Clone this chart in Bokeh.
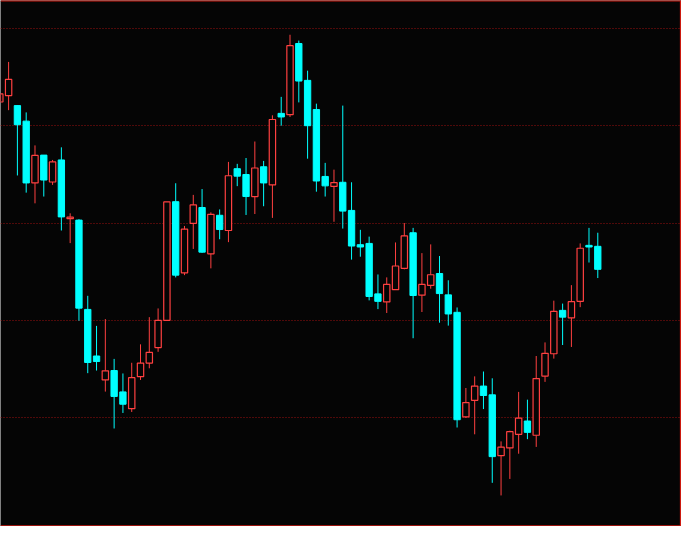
from bokeh.plotting import figure
from bokeh.models import Span, FixedTicker, ColumnDataSource
from bokeh.embed import file_html
from bokeh.resources import INLINE

# OHLC data (arbitrary price units)
opens = [424.7, 431.3, 421, 405, 341.3, 370, 342.3, 365, 304.5, 303,
         211, 163, 138.3, 148, 126, 108.7, 141.7, 155.7, 171.7, 199.7,
         322, 248.7, 299.7, 316, 268.3, 308, 292.3, 356, 350, 327.3,
         358, 339.3, 413, 411.7, 485, 447, 417, 348, 337.7, 342,
         313, 277.7, 279, 227, 218.7, 231.3, 253.3, 290, 225.7, 235.7,
         248, 226, 208, 100.3, 117.3, 132, 123, 60.3, 68.3, 82.3,
         96, 81.3, 142.3, 165.3, 210, 202.3, 219.3, 277, 276]
highs = [433, 466, 421, 414, 380, 370, 365, 378, 310, 304,
         225, 194, 201, 160, 145, 156, 175, 203, 212, 321.7,
         341, 297, 329, 335, 311, 314, 363, 361, 367, 384,
         364, 411, 430, 494, 488, 457, 423, 362, 355, 421,
         342, 293, 286, 247, 244, 280, 300, 295, 269, 278,
         266, 241, 213, 130, 142, 147, 140, 75, 86, 126,
         118, 163, 177, 220, 217, 236, 279, 295, 290]
lows = [424.7, 416.3, 349, 331.3, 320.3, 327.3, 339.3, 292.3, 279.3, 199.3,
        145.3, 148, 126.3, 88.3, 104.3, 105.3, 138.3, 150.3, 167.3, 199.7,
        244, 246.3, 273.3, 269.3, 253.3, 283.3, 280.3, 338, 308.3, 309.3,
        317.3, 305.3, 400.3, 409.3, 424.3, 366.3, 332.3, 327.3, 301.3, 294.3,
        262.3, 265.3, 220.3, 211.3, 207.3, 231.3, 252.3, 181.3, 208.3, 232.3,
        197.3, 194.3, 89.3, 99.3, 82.3, 108.3, 32.3, 19.3, 36.3, 62.3,
        77.3, 69.3, 136.3, 160.3, 174.3, 172.3, 213.3, 259.3, 243.3]
closes = [433, 448, 401.3, 341.3, 369.7, 344.3, 363, 306.3, 306, 212.3,
          156.3, 157.3, 147.7, 121.3, 113.3, 140.7, 155.7, 166.7, 199.7, 321.7,
          246.3, 293.7, 318.7, 270, 309, 293.3, 348.7, 348.3, 327.3, 356.7,
          341.3, 406.7, 409.3, 482.7, 446.3, 400.3, 343.3, 338.3, 341.7, 312.3,
          276.3, 275.3, 224.3, 219.3, 236.7, 255.7, 286.7, 225.3, 236.7, 246.7,
          227.3, 206.3, 97.3, 115, 132, 122.3, 59.3, 69, 85, 99,
          84.3, 139.7, 165.7, 209, 203, 219, 274, 275.3, 252.3]
grid_levels = [100, 200, 300, 400, 500]

UP_COLOR = "#ff4040"
DOWN_COLOR = "#00ffff"
BG = "#050505"
BORDER = "#cc1a10"
GRID = "#9b1010"

n = len(opens)
idx = list(range(n))
up = [c >= o for o, c in zip(opens, closes)]
top = [max(o, c) for o, c in zip(opens, closes)]
bot = [min(o, c) for o, c in zip(opens, closes)]

src_up = ColumnDataSource(dict(
    x=[i for i in idx if up[i]], h=[highs[i] for i in idx if up[i]],
    l=[lows[i] for i in idx if up[i]], t=[top[i] for i in idx if up[i]],
    b=[bot[i] for i in idx if up[i]]))
src_dn = ColumnDataSource(dict(
    x=[i for i in idx if not up[i]], h=[highs[i] for i in idx if not up[i]],
    l=[lows[i] for i in idx if not up[i]], t=[top[i] for i in idx if not up[i]],
    b=[bot[i] for i in idx if not up[i]]))

p = figure(width=681, height=526, output_backend="svg", toolbar_location=None,
           x_range=(0.078, 77.52), y_range=(-12.7, 529.3),
           background_fill_color=BG, border_fill_color=BG,
           min_border=0, outline_line_color=None)
p.axis.visible = False
p.xgrid.visible = False
p.ygrid.ticker = FixedTicker(ticks=grid_levels)
p.ygrid.grid_line_color = GRID
p.ygrid.grid_line_dash = "1 2"
p.ygrid.grid_line_width = 1

# wicks
p.segment(x0="x", y0="l", x1="x", y1="h", source=src_up, line_color=UP_COLOR, line_width=1)
p.segment(x0="x", y0="l", x1="x", y1="h", source=src_dn, line_color=DOWN_COLOR, line_width=1)
# bodies
p.vbar(x="x", top="t", bottom="b", width=0.72, source=src_up,
       fill_color=BG, line_color=UP_COLOR, line_width=1.2)
p.vbar(x="x", top="t", bottom="b", width=0.72, source=src_dn,
       fill_color=DOWN_COLOR, line_color=DOWN_COLOR, line_width=1)

# border (top, right, bottom)
p.add_layout(Span(location=529.3, dimension="width", line_color=BORDER, line_width=2))
p.add_layout(Span(location=-12.5, dimension="width", line_color=BORDER, line_width=2))
p.add_layout(Span(location=77.42, dimension="height", line_color=BORDER, line_width=1.5))

open("out.html", "w").write(file_html(p, INLINE))
